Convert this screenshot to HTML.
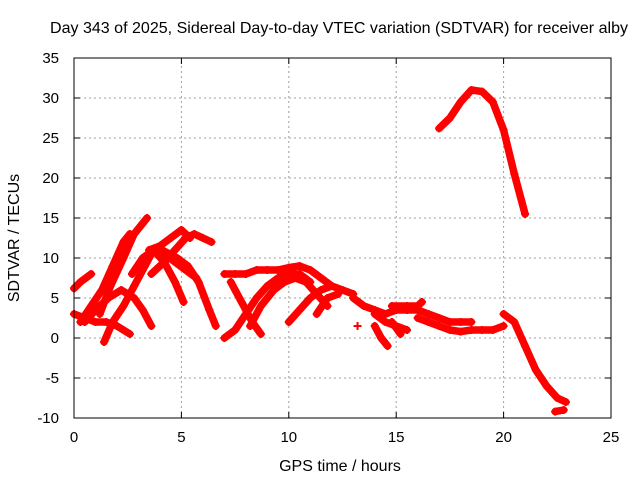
<!DOCTYPE html>
<html><head><meta charset="utf-8"><style>
html,body{margin:0;padding:0;background:#fff}
svg{display:block;font-family:"Liberation Sans",sans-serif}
</style></head><body>
<svg id="chart" width="640" height="480">
<text x="339" y="33" text-anchor="middle" font-size="16" textLength="578" lengthAdjust="spacingAndGlyphs">Day 343 of 2025, Sidereal Day-to-day VTEC variation (SDTVAR) for receiver alby</text>
<text x="340" y="471" text-anchor="middle" font-size="16">GPS time / hours</text>
<text transform="translate(19,238) rotate(-90)" text-anchor="middle" font-size="16">SDTVAR / TECUs</text>
<g id="grid"></g><g id="ticks"></g><g id="marks"></g>
<rect x="74" y="58" width="537" height="360" fill="none" stroke="#000" stroke-width="1"/>
</svg>
<script>
const xTicks=[0,5,10,15,20,25];
const yTicks=[-10,-5,0,5,10,15,20,25,30,35];
const tracks=[
[[17.0,26.2],[17.5,27.5],[18.0,29.5],[18.5,31],[19.0,30.8],[19.5,29.5],[20.0,26],[20.5,20.5],[21.0,15.5]],
[[20.0,3],[20.5,2],[21.0,-1],[21.5,-4],[22.0,-6],[22.5,-7.5],[22.9,-8]],
[[22.4,-9.2],[22.8,-9]],
[[0,6.2],[0.3,7],[0.8,8]],
[[0,3],[0.5,2.5],[1,2],[1.5,2],[2,1.5],[2.6,0.5]],
[[0.3,2],[0.8,4],[1.3,6],[1.8,9],[2.3,12],[2.6,13]],
[[1.2,3],[1.7,6.5],[2.3,10],[2.8,13],[3.4,15]],
[[1.4,-0.5],[1.8,2],[2.3,4],[2.8,6.5],[3.3,9],[3.7,11]],
[[0.5,2],[1,3.5],[1.6,5],[2.2,6],[2.8,5],[3.2,3.5],[3.6,1.5]],
[[3.5,11],[4,11.5],[4.5,12.5],[5,13.5],[5.4,12.5]],
[[2.7,8],[3.2,10],[3.7,11],[4.2,10.5],[4.7,9.5],[5.2,8.5],[5.7,7.5]],
[[3.6,8],[4.2,9.5],[4.7,11],[5.2,12.5],[5.6,13],[6.0,12.5],[6.4,12]],
[[3.7,11],[4.2,9.5],[4.7,7],[5.1,4.5]],
[[4.1,11],[4.8,10],[5.3,9],[5.8,7],[6.3,3.5],[6.6,1.5]],
[[7.0,8],[7.5,8],[8,8],[8.5,8.5],[9,8.5],[9.5,8.5],[10,8.8],[10.5,9],[11,8.5],[11.5,7.5],[12,6.5],[12.5,6],[13,5.5]],
[[7,0],[7.5,1],[8,3],[8.5,5],[9,6.5],[9.5,7.5],[10,8],[10.5,8],[11,7]],
[[7.3,7],[7.8,4.5],[8.3,2],[8.7,0.5]],
[[8.2,1.5],[8.7,4],[9.3,6],[9.8,7],[10.3,7.5],[10.8,7],[11.3,5.5],[11.8,4]],
[[10,2],[10.5,3.5],[11,5],[11.5,6],[12,6.5]],
[[11.3,3],[11.8,5],[12.3,5.5]],
[[13,5],[13.5,4],[14,3.5],[14.5,3],[15,3.5],[15.5,3.5],[16,3.5],[16.5,3],[17,2.5],[17.5,2],[18,2],[18.5,2]],
[[14,3],[14.5,2],[15,1.5],[15.5,1]],
[[14,1.5],[14.3,0],[14.6,-1]],
[[14.8,2],[15.2,0.5]],
[[16,2.5],[16.5,2],[17,1.5],[17.5,1],[18,0.8],[18.5,1],[19,1],[19.5,1],[20,1.5]],
[[14.8,4],[15.5,4],[16,4],[16.2,4.5]],
[[13.2,1.5]]
];
const X0=74,X1=611,Y0=418,Y1=58;
const xs=t=>X0+(t-0)/(25-0)*(X1-X0);
const ys=v=>Y0-(v+10)/(35+10)*(Y0-Y1);
const NS="http://www.w3.org/2000/svg";
const grid=document.getElementById('grid'),ticks=document.getElementById('ticks'),marks=document.getElementById('marks');
function mk(tag,attrs,parent){const e=document.createElementNS(NS,tag);for(const k in attrs)e.setAttribute(k,attrs[k]);parent.appendChild(e);return e;}
xTicks.forEach(t=>{const x=xs(t);
 if(t>0&&t<25){const g=mk('line',{x1:x,x2:x,y1:Y0,y2:Y1,stroke:'#a0a0a0','stroke-dasharray':'2,3'},grid);
 
 }
 mk('line',{x1:x,x2:x,y1:Y0,y2:Y0-6,stroke:'#000'},ticks);
 mk('line',{x1:x,x2:x,y1:Y1,y2:Y1+6,stroke:'#000'},ticks);
 const l=mk('text',{x:x,y:Y0+24,'text-anchor':'middle','font-size':15},ticks);l.textContent=t;
 
 });
yTicks.forEach(v=>{const y=ys(v);
 if(v>-10&&v<35){const g=mk('line',{x1:X0,x2:X1,y1:y,y2:y,stroke:'#a0a0a0','stroke-dasharray':'2,3'},grid);
 
 }
 mk('line',{x1:X0,x2:X0+6,y1:y,y2:y,stroke:'#000'},ticks);
 mk('line',{x1:X1,x2:X1-6,y1:y,y2:y,stroke:'#000'},ticks);
 const l=mk('text',{x:X0-15,y:y+5,'text-anchor':'end','font-size':15},ticks);l.textContent=v;
 
 });
tracks.forEach((tr,i)=>{
 const g=mk('g',{},marks);
 
 
 if(tr.length>1){mk('polyline',{points:tr.map(p=>xs(p[0])+','+ys(p[1])).join(' '),fill:'none',stroke:'#ff0000','stroke-width':7.5,'stroke-linejoin':'round','stroke-linecap':'round'},g);}
 tr.forEach(p=>{const x=xs(p[0]),y=ys(p[1]);
  mk('path',{d:`M${x-4},${y}H${x+4}M${x},${y-4}V${y+4}`,stroke:'#ff0000','stroke-width':2},g);});
});
</script>
</body></html>
